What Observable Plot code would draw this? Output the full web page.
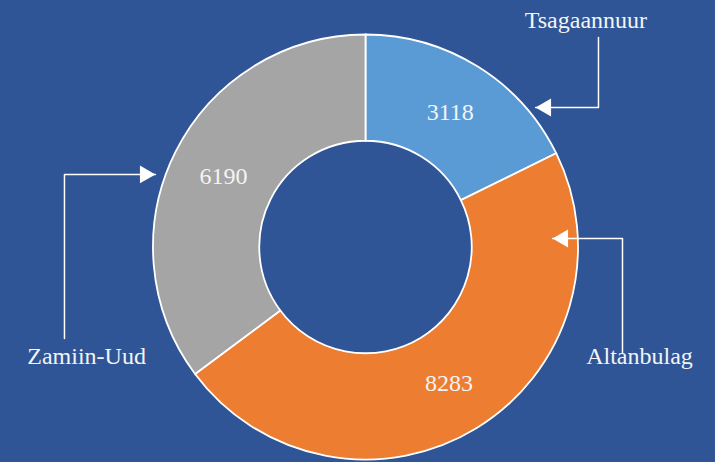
<!DOCTYPE html>
<html><head><meta charset="utf-8">
<script src="https://cdn.jsdelivr.net/npm/d3@7"></script>
<script src="https://cdn.jsdelivr.net/npm/@observablehq/plot@0.6"></script>
<style>
html,body{margin:0;padding:0;background:#2F5597;overflow:hidden;}
</style></head><body><div id="chart"></div>
<script>
// ---- data ----
const categories = ["Tsagaannuur", "Altanbulag", "Zamiin-Uud"];
const values = [3118, 8283, 6190];
const colors = ["#5B9BD5", "#ED7D31", "#A5A5A5"];

// ---- layout (unit = outer radius) ----
const W = 715, H = 462, R = 212.5, CX = 365.5, CY = 247;
const innerRatio = 0.5, labelR = 0.75;
const FONT = "'Liberation Serif', 'Times New Roman', serif";
const callouts = [
  {category: "Tsagaannuur", tx: 1.035, ty: 1.067, path: [[1.094, 0.988], [1.094, 0.659], [0.798, 0.659]], dir: -1},
  {category: "Altanbulag", tx: 1.287, ty: -0.514, path: [[1.207, -0.494], [1.207, 0.042], [0.878, 0.042]], dir: -1},
  {category: "Zamiin-Uud", tx: -1.315, ty: -0.514, path: [[-1.419, -0.428], [-1.419, 0.344], [-0.991, 0.344]], dir: 1}
];

const pie = d3.pie().sort(null).value(d => d.value);
const slices = pie(categories.map((c, i) => ({category: c, value: values[i]})))
  .map(s => ({category: s.data.category, value: s.data.value, start: s.startAngle, end: s.endAngle, mid: (s.startAngle + s.endAngle) / 2}));

const colorScale = Plot.scale({color: {type: "ordinal", domain: categories, range: colors}});

function ring(data) {
  return (index, scales) => {
    const {x, y} = scales;
    const cx = x(0), cy = y(0), rPx = x(1) - x(0);
    const arc = d3.arc().innerRadius(rPx * innerRatio).outerRadius(rPx);
    const g = d3.create("svg:g").attr("transform", `translate(${cx},${cy})`);
    g.selectAll("path").data(data).join("path")
      .attr("d", d => arc({startAngle: d.start, endAngle: d.end}))
      .attr("fill", d => colorScale.apply(d.category))
      .attr("stroke", "white")
      .attr("stroke-width", 1.8);
    return g.node();
  };
}

const lineRows = callouts.flatMap(c => c.path.map(([x, y]) => ({category: c.category, x, y})));
const headOffset = 10.3 / R;
const heads = callouts.map(c => {
  const [tx, ty] = c.path[c.path.length - 1];
  return {x: tx - c.dir * headOffset, y: ty, rot: c.dir > 0 ? 90 : -90};
});

const chart = Plot.plot({
  width: W, height: H,
  margin: 0,
  x: {domain: [-CX / R, (W - CX) / R], axis: null},
  y: {domain: [-(H - CY) / R, CY / R], axis: null},
  style: {background: "#2F5597", fontFamily: FONT},
  marks: [
    ring(slices),
    Plot.text(slices, {
      x: d => labelR * Math.sin(d.mid),
      y: d => labelR * Math.cos(d.mid),
      text: d => String(d.value),
      fill: "#F4F4F4", fontSize: 24, fontFamily: FONT
    }),
    Plot.line(lineRows, {x: "x", y: "y", z: "category", stroke: "white", strokeWidth: 1.5}),
    Plot.dot(heads, {x: "x", y: "y", symbol: "triangle", r: 6.65, fill: "white", stroke: null, rotate: "rot"}),
    Plot.text(callouts, {x: "tx", y: "ty", text: "category", fill: "#F4F4F4", fontSize: 24, fontFamily: FONT})
  ]
});
document.getElementById("chart").append(chart);
</script>
</body></html>
